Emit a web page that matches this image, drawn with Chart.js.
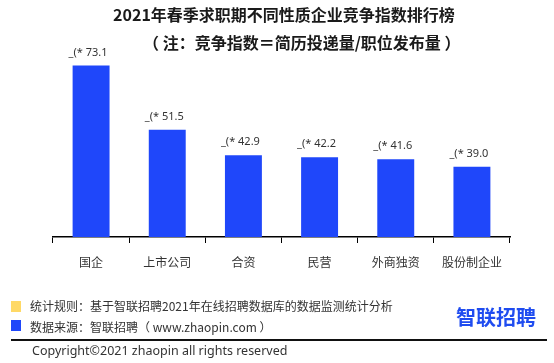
<!DOCTYPE html>
<html>
<head>
<meta charset="utf-8">
<script src="https://cdn.jsdelivr.net/npm/chart.js@4/dist/chart.umd.min.js"></script>
<style>
  body { margin: 0; background: #fff; font-family: "Noto Sans CJK SC", sans-serif; }
  #wrap { position: relative; width: 554px; height: 363px; overflow: hidden; }
  #chart { position: absolute; left: 0; top: 0; }
  .t { position: absolute; white-space: nowrap; color: #1a1a1a; }
  .sq { position: absolute; width: 10px; height: 11px; }
</style>
</head>
<body>
<div id="wrap">
  <canvas id="chart" width="554" height="363"></canvas>
  <div class="t" id="title1" style="left:0;width:568px;text-align:center;top:2px;font-size:16px;font-weight:bold;">2021年春季求职期不同性质企业竞争指数排行榜</div>
  <div class="t" id="title2" style="left:143px;top:30px;font-size:16px;font-weight:bold;">（ 注：竞争指数＝简历投递量/职位发布量 ）</div>
  <div class="sq" style="left:11px;top:301px;background:#ffd966;"></div>
  <div class="sq" style="left:11px;top:320px;background:#1f47fa;"></div>
  <div class="t" style="left:30px;top:297px;font-size:12px;color:#333;">统计规则：基于智联招聘2021年在线招聘数据库的数据监测统计分析</div>
  <div class="t" style="left:30px;top:318px;font-size:12px;color:#333;">数据来源：智联招聘（ www.zhaopin.com ）</div>
  <div class="t" style="left:456px;top:302px;font-size:20px;font-weight:bold;color:#1f4cf0;">智联招聘</div>
  <div style="position:absolute;left:11px;top:339px;width:536px;height:1.5px;background:#111;"></div>
  <div class="t" style="left:32px;top:342px;font-size:12.5px;color:#333;font-family:'Noto Sans',sans-serif;">Copyright©2021 zhaopin all rights reserved</div>
</div>
<script>
var categories = ['国企', '上市公司', '合资', '民营', '外商独资', '股份制企业'];
var competitionIndex = [73.1, 51.5, 42.9, 42.2, 41.6, 39.0];
var labelPrefix = '_(* ';

var barLabels = {
    id: 'barLabels',
    afterDatasetsDraw: function(chart) {
        var ctx = chart.ctx;
        var meta = chart.getDatasetMeta(0);
        ctx.save();
        ctx.font = '11px "Noto Sans", sans-serif';
        ctx.fillStyle = '#333';
        ctx.textAlign = 'center';
        ctx.textBaseline = 'middle';
        meta.data.forEach(function(bar, i) {
            ctx.fillText(labelPrefix + competitionIndex[i].toFixed(1), bar.x - 3, bar.y - 13);
        });
        ctx.restore();
    }
};

var chart = new Chart(document.getElementById('chart'), {
    type: 'bar',
    data: {
        labels: categories,
        datasets: [{
            data: competitionIndex,
            backgroundColor: '#1f47fa',
            barPercentage: 0.485,
            categoryPercentage: 1
        }]
    },
    options: {
        responsive: false,
        animation: false,
        layout: { padding: { left: 53, right: 44, top: 45, bottom: 88 } },
        plugins: { legend: { display: false }, tooltip: { enabled: false } },
        scales: {
            x: {
                afterFit: function(scale) { scale.height = 38; },
                grid: { drawOnChartArea: false, tickLength: 6, color: '#000', offset: true },
                border: { color: '#000', width: 1.5 },
                ticks: { color: '#333', padding: 12, font: { size: 12, family: '"Noto Sans CJK SC"' } }
            },
            y: {
                display: false,
                min: 15.4,
                max: 80
            }
        }
    },
    plugins: [barLabels]
});
</script>
</body>
</html>
